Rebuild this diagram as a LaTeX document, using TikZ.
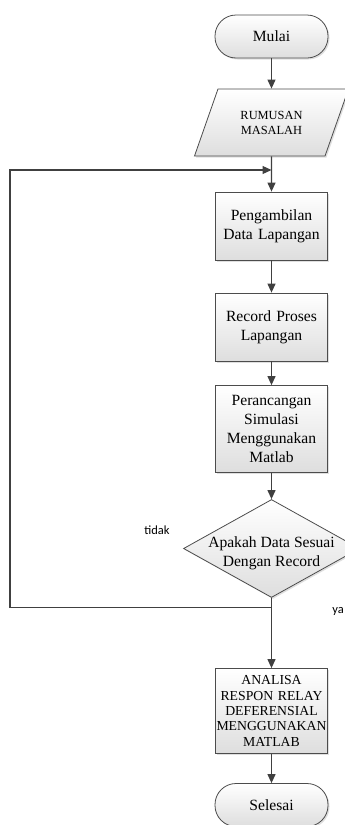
\documentclass[tikz,border=0pt]{standalone}
\usepackage{fontspec}
\setmainfont{Liberation Serif}
\newfontfamily\labelfont{Carlito}
\usetikzlibrary{shapes.geometric,arrows.meta,shadows}

\begin{document}
\begin{tikzpicture}[x=1pt, y=1pt, >={Triangle[length=9pt,width=8pt]}, node distance=100pt,
  garis/.style={draw=black!75, line width=1.2pt},
  isi/.style={draw=black!70, line width=0.8pt, top color=white, bottom color=black!13,
    drop shadow={shadow xshift=1.5pt, shadow yshift=-1.5pt, opacity=0.25}},
  terminal/.style={isi, rectangle, rounded corners=21pt, minimum width=113pt,
    minimum height=43pt, font=\fontsize{15.6}{19}\selectfont},
  proses/.style={isi, rectangle, minimum width=112pt, minimum height=68pt, text width=104pt,
    align=center, inner sep=2pt, font=\fontsize{15.6}{19}\selectfont},
  masukan/.style={isi, trapezium, trapezium left angle=61, trapezium right angle=119,
    trapezium stretches=true, minimum width=155pt, minimum height=67pt, inner sep=1pt,
    align=center, font=\fontsize{12.4}{15}\selectfont},
  keputusan/.style={isi, diamond, minimum width=176pt, minimum height=98pt, inner sep=0pt},
  ket/.style={font=\labelfont\fontsize{12.5}{15}\selectfont}]
  \useasboundingbox (0,0) rectangle (345,-825);

  % Nodes
  \node (mulai) [terminal] at (271.5,-36.5) {Mulai};
  \node (rumusan) [masukan, below of=mulai, node distance=86pt] {RUMUSAN\\MASALAH};
  \node (ambil) [proses, below of=rumusan, node distance=103.5pt] {Pengambilan Data Lapangan};
  \node (record) [proses, below of=ambil, node distance=101pt] {Record Proses Lapangan};
  \node (rancang) [proses, below of=record, node distance=102pt, minimum height=87pt]
    {Perancangan Simulasi Menggunakan Matlab};
  \node (cek) [keputusan, below of=rancang, node distance=119.5pt,
    label={[align=center, yshift=-5pt, font=\fontsize{15.6}{19}\selectfont]center:{Apakah Data Sesuai\\Dengan Record}}] {};
  \node (analisa) [proses, below of=cek, node distance=162.5pt, minimum height=85pt,
    text width=110pt, inner sep=1pt, font=\fontsize{13.75}{15.3}\selectfont]
    {ANALISA RESPON RELAY DEFERENSIAL MENGGUNAKAN MATLAB};
  \node (selesai) [terminal, below of=analisa, node distance=94pt] {Selesai};
  \node (tidak) [ket] at (157,-530) {tidak};
  \node (ya) [ket] at (338,-611) {ya};

  % Coordinates for the loop
  \path (rumusan) ++(0,-47.5) coordinate (masuk);
  \path (cek) ++(0,-59) coordinate (cabang);
  \coordinate (kiri) at (10,-170);

  % Arrows
  \draw[garis,->] (mulai) -- (rumusan);
  \draw[garis,->] (rumusan) -- (ambil);
  \draw[garis,->] (ambil) -- (record);
  \draw[garis,->] (record) -- (rancang);
  \draw[garis,->] (rancang) -- (cek);
  \draw[garis,->] (cek) -- (analisa);
  \draw[garis,->] (analisa) -- (selesai);
  \draw[garis,->] (cabang) -| (kiri) -- (masuk);
\end{tikzpicture}
\end{document}
